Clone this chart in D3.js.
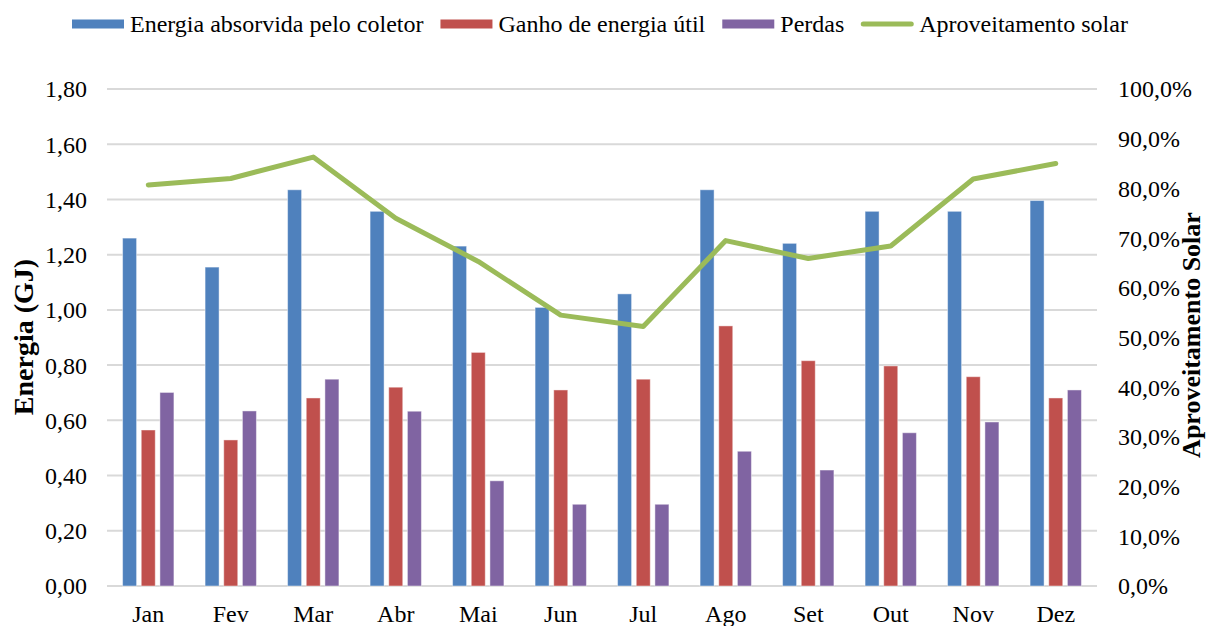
<!DOCTYPE html>
<html>
<head>
<meta charset="utf-8">
<script src="https://cdn.jsdelivr.net/npm/d3@7"></script>
<style>
  html, body { margin: 0; padding: 0; background: #fff; }
  svg text { font-family: 'Liberation Serif', 'DejaVu Serif', serif; }
</style>
</head>
<body>
<svg id="chart"></svg>
<script>
// Monthly collector energy balance (GJ) with solar use fraction on the right axis

const months = ["Jan", "Fev", "Mar", "Abr", "Mai", "Jun", "Jul", "Ago", "Set", "Out", "Nov", "Dez"];
const absorvida = [1.26, 1.155, 1.435, 1.357, 1.231, 1.009, 1.058, 1.435, 1.241, 1.357, 1.357, 1.396];
const ganho = [0.565, 0.529, 0.681, 0.720, 0.846, 0.710, 0.749, 0.942, 0.816, 0.797, 0.758, 0.681];
const perdas = [0.701, 0.634, 0.749, 0.633, 0.381, 0.296, 0.296, 0.488, 0.420, 0.555, 0.594, 0.710];
const aproveitamento = [0.807, 0.820, 0.863, 0.740, 0.653, 0.545, 0.522, 0.695, 0.659, 0.684, 0.819, 0.850];
const leftTicks = [0, 0.2, 0.4, 0.6, 0.8, 1.0, 1.2, 1.4, 1.6, 1.8];
const rightTicks = [0, 0.1, 0.2, 0.3, 0.4, 0.5, 0.6, 0.7, 0.8, 0.9, 1.0];
const seriesNames = ["Energia absorvida pelo coletor", "Ganho de energia útil", "Perdas"];
const lineName = "Aproveitamento solar";

(function () {
  const W = 1208, H = 626;
  const M = { top: 89, right: 111, bottom: 40, left: 107 };
  const innerW = W - M.left - M.right;
  const innerH = H - M.top - M.bottom;
  const FONT = "'Liberation Serif', 'DejaVu Serif', serif";

  const COLORS = ["#4f81bd", "#c0504d", "#8064a2"];
  const GREEN = "#9bbb59";
  const GRID = "#d9d9d9";

  const svg = d3.select("#chart").attr("width", W).attr("height", H)
    .attr("font-family", FONT);
  const g = svg.append("g").attr("transform", `translate(${M.left},${M.top})`);

  const x0 = d3.scaleBand().domain(months).range([0, innerW]).padding(0);
  const x1 = d3.scaleBand().domain(d3.range(3)).range([-28, 28])
    .paddingInner(0.25).paddingOuter(0.125);
  const y = d3.scaleLinear().domain([0, 1.8]).range([innerH, 0]);
  const yR = d3.scaleLinear().domain([0, 1]).range([innerH, 0]);

  const fmtL = v => d3.format(".2f")(v).replace(".", ",");
  const fmtR = v => d3.format(".1f")(v * 100).replace(".", ",") + "%";

  // gridlines
  g.append("g").selectAll("line").data(leftTicks).enter().append("line")
    .attr("x1", 0).attr("x2", innerW)
    .attr("y1", d => y(d)).attr("y2", d => y(d))
    .attr("stroke", GRID).attr("stroke-width", 2);

  // left tick labels
  g.append("g").selectAll("text").data(leftTicks).enter().append("text")
    .attr("x", -20).attr("y", d => y(d)).attr("dy", "0.35em")
    .attr("text-anchor", "end").attr("font-size", 24).attr("fill", "#000")
    .text(fmtL);

  // right tick labels
  g.append("g").selectAll("text").data(rightTicks).enter().append("text")
    .attr("x", innerW + 21).attr("y", d => yR(d)).attr("dy", "0.35em")
    .attr("text-anchor", "start").attr("font-size", 24).attr("fill", "#000")
    .text(fmtR);

  // month labels
  g.append("g").selectAll("text").data(months).enter().append("text")
    .attr("x", d => x0(d) + x0.bandwidth() / 2).attr("y", innerH + 36)
    .attr("text-anchor", "middle").attr("font-size", 24).attr("fill", "#000")
    .text(d => d);

  // bars
  const seriesVals = [absorvida, ganho, perdas];
  seriesVals.forEach((vals, si) => {
    g.append("g").selectAll("rect").data(vals).enter().append("rect")
      .attr("x", (d, i) => x0(months[i]) + x0.bandwidth() / 2 + x1(si))
      .attr("width", x1.bandwidth())
      .attr("y", d => y(d))
      .attr("height", d => innerH - y(d))
      .attr("fill", COLORS[si])
      .attr("stroke", "#ffffff").attr("stroke-opacity", 0.45).attr("stroke-width", 1);
  });

  // solar fraction line
  const line = d3.line()
    .x((d, i) => x0(months[i]) + x0.bandwidth() / 2)
    .y(d => yR(d));
  g.append("path").datum(aproveitamento)
    .attr("d", line)
    .attr("fill", "none").attr("stroke", GREEN)
    .attr("stroke-width", 5)
    .attr("stroke-linecap", "round").attr("stroke-linejoin", "round");

  // axis titles
  svg.append("text")
    .attr("transform", "translate(33,337) rotate(-90)")
    .attr("text-anchor", "middle").attr("font-size", 28).attr("font-weight", "bold")
    .text("Energia (GJ)");
  svg.append("text")
    .attr("transform", "translate(1200,335) rotate(-90)")
    .attr("text-anchor", "middle").attr("font-size", 26).attr("font-weight", "bold")
    .text("Aproveitamento Solar");

  // legend
  const legend = svg.append("g").attr("transform", "translate(72,24)");
  const items = seriesNames.map((n, i) => ({ label: n, color: COLORS[i], kind: "rect" }))
    .concat([{ label: lineName, color: GREEN, kind: "line" }]);
  let lx = 0;
  items.forEach(it => {
    if (it.kind === "rect") {
      legend.append("rect").attr("x", lx).attr("y", -4.5).attr("width", 52).attr("height", 9)
        .attr("fill", it.color);
    } else {
      legend.append("line").attr("x1", lx + 2).attr("x2", lx + 50).attr("y1", 0).attr("y2", 0)
        .attr("stroke", it.color).attr("stroke-width", 5).attr("stroke-linecap", "round");
    }
    const t = legend.append("text").attr("x", lx + 58).attr("y", 0).attr("dy", "0.33em")
      .attr("font-size", 24).attr("fill", "#000").text(it.label);
    lx += 58 + t.node().getComputedTextLength() + 17;
  });
})();
</script>
</body>
</html>
